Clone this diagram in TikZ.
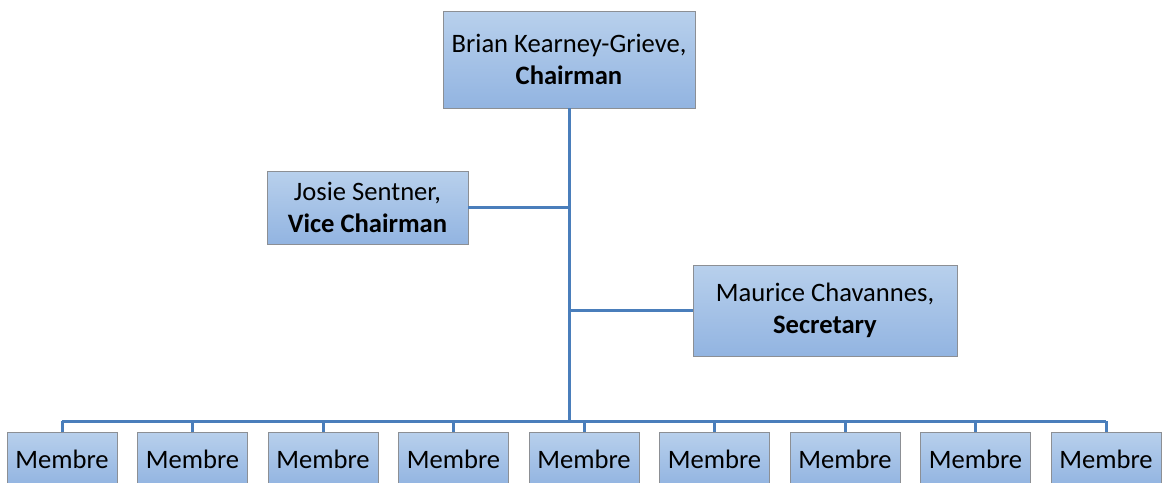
\documentclass[tikz,border=0pt]{standalone}
\usepackage{fontspec}
\setmainfont{Carlito}
\usetikzlibrary{positioning, calc}
\definecolor{boxtop}{HTML}{B8D0EC}
\definecolor{boxbot}{HTML}{92B4E1}
\definecolor{boxline}{HTML}{8C8F94}
\definecolor{linkblue}{HTML}{4A7EBB}

\begin{document}
\begin{tikzpicture}[x=0.5pt, y=-0.5pt,
      box/.style = {draw=boxline, top color=boxtop, bottom color=boxbot, align=center, inner sep=0pt, font=\fontsize{13.3}{16}\selectfont},
      member/.style = {box, minimum width=55pt, minimum height=27pt},
      link/.style = {draw=linkblue, line width=1.5pt}
    ]
    \useasboundingbox (0,0) rectangle (1162,482);

    \node[box, minimum width=126pt, minimum height=48.5pt] (chair) at (569,59.5) {Brian Kearney-Grieve,\\\textbf{Chairman}};
    \node[box, minimum width=100.5pt, minimum height=36.5pt] (vice) at (367.5,207.5) {Josie Sentner,\\\textbf{Vice Chairman}};
    \node[box, minimum width=132pt, minimum height=45.5pt] (sec) at (825,310.5) {Maurice Chavannes,\\\textbf{Secretary}};

    \foreach \i in {1,...,9}
      \node[member] (m\i) at ({62+130.5*(\i-1)},459) {Membre};

    \coordinate (bus) at (569,421);

    % trunk and side branches
    \draw[link] (chair.south) -- (chair.south |- bus);
    \draw[link] (vice.east) -- (vice.east -| chair.south);
    \draw[link] (sec.west) -- (sec.west -| chair.south);

    % members
    \draw[link] (m1.north |- bus) -- (m9.north |- bus);
    \foreach \i in {1,...,9}
      \draw[link] (m\i.north) -- (m\i.north |- bus);

    \end{tikzpicture}
\end{document}
